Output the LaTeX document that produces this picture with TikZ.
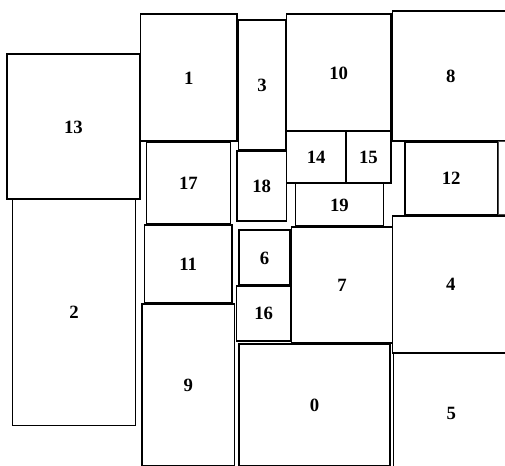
\documentclass[tikz,border=0pt]{standalone}
\usepackage{fontspec}
\setmainfont{Liberation Serif}
\usepackage{tikz}
\usetikzlibrary{positioning,calc}
\tikzset{BLOCK/.style 2 args={rectangle,draw,line width=1.7pt,anchor=north west,inner sep=0pt,minimum width=#1*0.3mm,minimum height=#2*0.3mm,font=\fontsize{16}{18}\selectfont\bfseries}}
\tikzset{EDGEBLOCK/.style 2 args={BLOCK={#1}{#2},line width=1.1pt,draw=black!70}}

\begin{document}
\begin{tikzpicture}[x=0.3mm,y=-0.3mm]

\useasboundingbox (0,0) rectangle (505,466);
\clip (0,0) rectangle (505,466);

% left column
\node[BLOCK={133}{145}] (n_13) at (6,53.5) {13};
\node[BLOCK={123}{226}] (n_2) at (11.5,198.5) {2};

% second column
\node[BLOCK={96.5}{127}] (n_1) at (139.5,13.5) {1};
\node[BLOCK={84}{82}] (n_17) at (145.5,141.5) {17};
\node[BLOCK={87.5}{78}] (n_11) at (143.5,224.5) {11};
\node[BLOCK={92.5}{161.5}] (n_9) at (141,303.5) {9};

% third column
\node[BLOCK={47}{130.5}] (n_3) at (237.5,19) {3};
\node[BLOCK={49.5}{70}] (n_18) at (236,150.5) {18};
\node[BLOCK={51}{55}] (n_6) at (238,229.5) {6};
\node[BLOCK={54.5}{55.5}] (n_16) at (235.5,285) {16};
\node[BLOCK={151}{121.5}] (n_0) at (238,343.5) {0};

% fourth column
\node[BLOCK={104.5}{117}] (n_10) at (285.5,13.5) {10};
\node[BLOCK={59.5}{51.5}] (n_14) at (285.5,130.5) {14};
\node[BLOCK={45}{51.5}] (n_15) at (345,130.5) {15};
\node[BLOCK={88}{43}] (n_19) at (294.5,182.5) {19};
\node[BLOCK={101}{116}] (n_7) at (290.5,226.5) {7};

% right column
\node[BLOCK={116.5}{130}] (n_8) at (391.5,10) {8};
\node[BLOCK={92.5}{73}] (n_12) at (404,141) {12};
\node[EDGEBLOCK={30}{73}] (n_edge) at (498,141) {};
\node[BLOCK={116.5}{137.5}] (n_4) at (391.5,215) {4};
\node[BLOCK={115.5}{119.5}] (n_5) at (392.5,352.5) {5};

\end{tikzpicture}
\end{document}
